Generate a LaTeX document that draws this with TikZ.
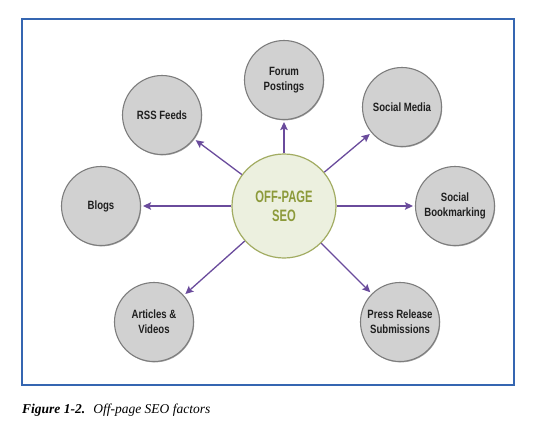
\documentclass[tikz,border=0pt]{standalone}
\usepackage{fontspec}
\setmainfont{Liberation Serif}
\newfontfamily\outerfont[FakeStretch=0.8]{Liberation Sans}
\newfontfamily\centerfont[FakeStretch=0.68]{Liberation Sans}
\usetikzlibrary{arrows.meta,shadows}
\definecolor{framecol}{HTML}{3566B1}
\definecolor{arrowcol}{HTML}{6A4B9C}
\definecolor{outerfill}{HTML}{D1D1D1}
\definecolor{outerdraw}{HTML}{7D7D7D}
\definecolor{centerfill}{HTML}{ECF0DF}
\definecolor{centerdraw}{HTML}{A2AC62}
\definecolor{centertext}{HTML}{8C9A3A}
\tikzset{
  outer/.style={circle, minimum size=79pt, inner sep=0pt, fill=outerfill, draw=outerdraw, line width=1.1pt,
    drop shadow={shadow xshift=0.7pt, shadow yshift=-0.9pt, opacity=0.35, fill=black},
    align=center, font=\outerfont\bfseries\fontsize{12}{15}\selectfont, text=black!88},
  hub/.style={circle, minimum size=104pt, inner sep=0pt, fill=centerfill, draw=centerdraw, line width=1.2pt,
    align=center, font=\centerfont\bfseries\fontsize{16.5}{19}\selectfont, text=centertext},
  link/.style={draw=arrowcol, line width=1.3pt, -{Stealth[length=8pt,width=7.5pt,inset=1.5pt]}, shorten >=2pt},
}
\begin{document}
\begin{tikzpicture}[x=1pt,y=-1pt]
\useasboundingbox (0,0) rectangle (550,432);
\fill[white] (0,0) rectangle (550,432);
\draw[framecol, line width=2pt] (22,19) rectangle (514,385);
\node[hub] (c) at (284,206) {OFF-PAGE\\SEO};
\node[outer] (forum) at (284,80) {Forum\\Postings};
\node[outer] (rss) at (162,115) {RSS Feeds};
\node[outer] (sm) at (402,107) {Social Media};
\node[outer] (blogs) at (101,206) {Blogs};
\node[outer] (sb) at (455,206) {Social\\Bookmarking};
\node[outer] (art) at (154,322) {Articles \&\\Videos};
\node[outer] (pr) at (400,322) {Press Release\\Submissions};
\foreach \t in {forum,rss,sm,blogs,sb,art,pr}{
  \draw[link] (c) -- (\t);
}
\node[anchor=base west, inner sep=0pt, font=\fontsize{13.5}{15}\selectfont\itshape] (cap) at (22,413)
  {\textbf{Figure 1-2.}\hspace{0.6em}Off-page SEO factors};
\end{tikzpicture}
\end{document}
